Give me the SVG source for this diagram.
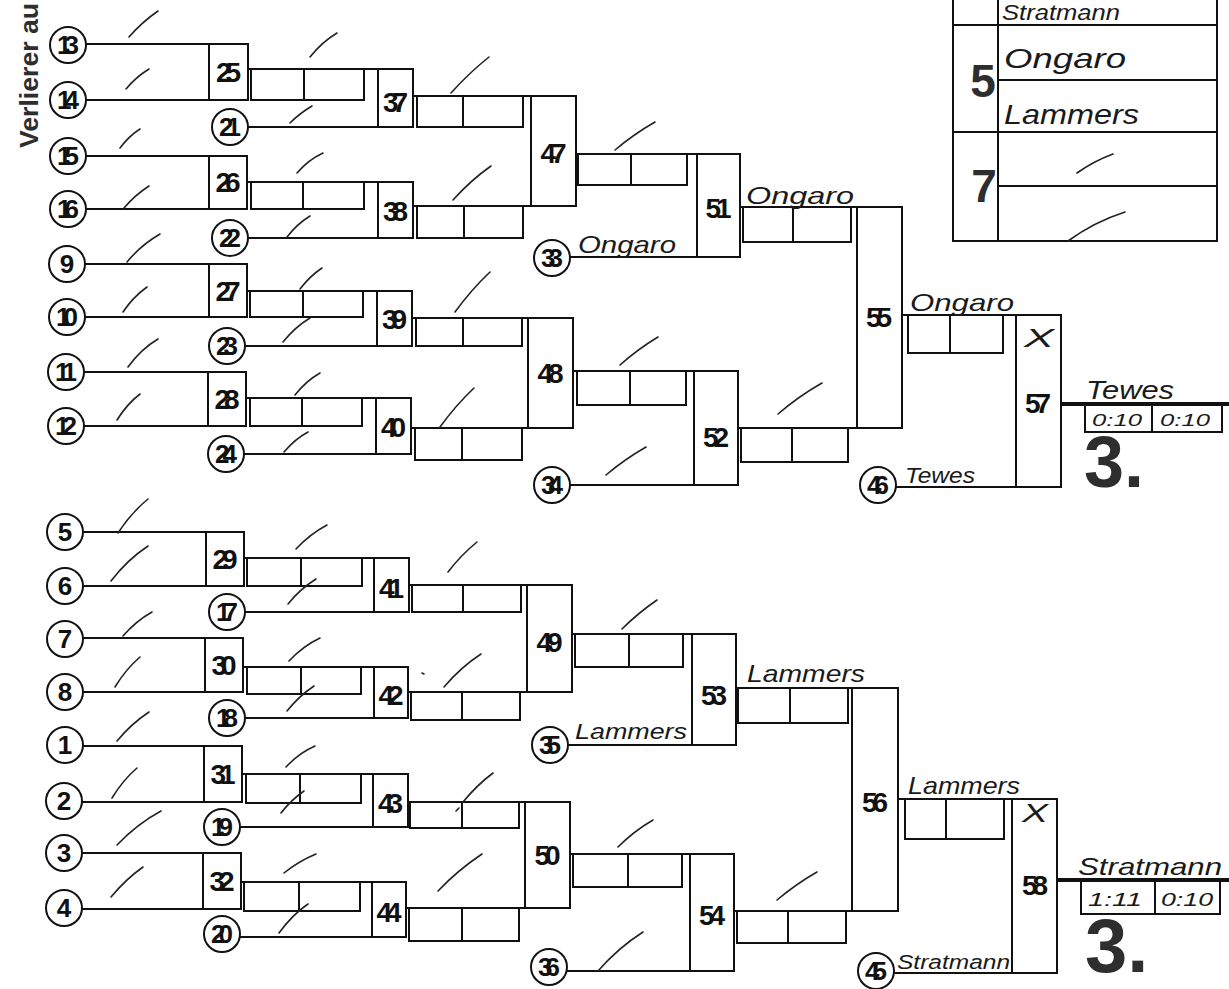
<svg xmlns="http://www.w3.org/2000/svg" width="1229" height="989" viewBox="0 0 1229 989">
<style>
.cn path{fill:none;stroke:#111;stroke-width:2}
.cn .thick{stroke-width:4}
.sc rect{fill:none;stroke:#111;stroke-width:2}
.sc line{stroke:#111;stroke-width:2}
.nd rect,.nd circle{fill:#fff;stroke:#111;stroke-width:2}
.nd text{font-family:"Liberation Sans",Arial,sans-serif;font-weight:700;font-size:26px;text-anchor:middle;fill:#111}
.nd .mb{font-size:28px}
.hw{font-family:"Liberation Sans",Arial,sans-serif;font-style:italic;fill:#1a1a1a}
.sl path{fill:none;stroke:#222;stroke-width:1.6;stroke-linecap:round}
.big{font-family:"Liberation Sans",Arial,sans-serif;font-weight:700;fill:#2e2e2e}
.tb line{stroke:#111;stroke-width:2}
</style>
<rect width="1229" height="989" fill="#fff"/>
<text class="big" transform="translate(38,148) rotate(-90)" font-size="26" textLength="145" lengthAdjust="spacingAndGlyphs">Verlierer au</text>

<g id="connectors" class="cn">
<path d="M86 44H209M86 100H209M86 156H209M86 209H209M85 264H209M85 317H209M84 372H208M84 426H208"/>
<path d="M83 532H206M83 586H206M83 638H205M83 692H205M83 746H204M82 802H204M82 853H203M82 909H203"/>
<path d="M248 69H378M248 127H378M247 182H378M248 238H378M247 291H377M245 346H377M246 398H376M244 454H376"/>
<path d="M244 558H374M245 612H374M243 667H374M245 718H374M242 774H373M240 827H373M241 882H372M240 937H372"/>
<path d="M413 96H531M413 206H531M412 318H528M411 428H528M409 585H527M408 692H527M408 802H525M406 908H525"/>
<path d="M576 154H697M570 257H697M573 371H694M570 485H694M572 634H692M568 745H692M570 854H690M567 971H690"/>
<path d="M740 207H857M738 428H857M736 688H852M734 911H852"/>
<path d="M902 315H1016M896 487H1016M898 799H1012M894 973H1012"/>
<path class="thick" d="M1061 404H1229M1057 880H1229"/>
</g>

<g class="sc">
<g id="s25"><rect x="251" y="69" width="113" height="31"/><line x1="304" y1="69" x2="304" y2="100"/></g>
<g id="s26"><rect x="251" y="182" width="113" height="27"/><line x1="303" y1="182" x2="303" y2="209"/></g>
<g id="s27"><rect x="250" y="291" width="113" height="26"/><line x1="303" y1="291" x2="303" y2="317"/></g>
<g id="s28"><rect x="250" y="398" width="112" height="28"/><line x1="302" y1="398" x2="302" y2="426"/></g>
<g id="s37"><rect x="417" y="96" width="106" height="31"/><line x1="463" y1="96" x2="463" y2="127"/></g>
<g id="s38"><rect x="417" y="206" width="106" height="32"/><line x1="464" y1="206" x2="464" y2="238"/></g>
<g id="s39"><rect x="416" y="318" width="106" height="28"/><line x1="463" y1="318" x2="463" y2="346"/></g>
<g id="s40"><rect x="415" y="428" width="107" height="32"/><line x1="462" y1="428" x2="462" y2="460"/></g>
<g id="s47"><rect x="578" y="154" width="109" height="31"/><line x1="631" y1="154" x2="631" y2="185"/></g>
<g id="s48"><rect x="577" y="371" width="109" height="34"/><line x1="630" y1="371" x2="630" y2="405"/></g>
<g id="s51"><rect x="743" y="207" width="108" height="35"/><line x1="793" y1="207" x2="793" y2="242"/></g>
<g id="s52"><rect x="741" y="428" width="107" height="34"/><line x1="792" y1="428" x2="792" y2="462"/></g>
<g id="s55"><rect x="908" y="315" width="95" height="38"/><line x1="950" y1="315" x2="950" y2="353"/></g>
<g id="s29"><rect x="247" y="558" width="115" height="28"/><line x1="301" y1="558" x2="301" y2="586"/></g>
<g id="s30"><rect x="247" y="667" width="114" height="27"/><line x1="301" y1="667" x2="301" y2="694"/></g>
<g id="s31"><rect x="246" y="774" width="115" height="29"/><line x1="300" y1="774" x2="300" y2="803"/></g>
<g id="s32"><rect x="244" y="882" width="116" height="29"/><line x1="299" y1="882" x2="299" y2="911"/></g>
<g id="s41"><rect x="412" y="585" width="109" height="27"/><line x1="463" y1="585" x2="463" y2="612"/></g>
<g id="s42"><rect x="411" y="692" width="109" height="28"/><line x1="462" y1="692" x2="462" y2="720"/></g>
<g id="s43"><rect x="410" y="802" width="109" height="26"/><line x1="462" y1="802" x2="462" y2="828"/></g>
<g id="s44"><rect x="409" y="908" width="110" height="33"/><line x1="462" y1="908" x2="462" y2="941"/></g>
<g id="s49"><rect x="575" y="634" width="108" height="33"/><line x1="629" y1="634" x2="629" y2="667"/></g>
<g id="s50"><rect x="573" y="854" width="109" height="33"/><line x1="628" y1="854" x2="628" y2="887"/></g>
<g id="s53"><rect x="738" y="688" width="110" height="35"/><line x1="790" y1="688" x2="790" y2="723"/></g>
<g id="s54"><rect x="737" y="911" width="109" height="32"/><line x1="788" y1="911" x2="788" y2="943"/></g>
<g id="s56"><rect x="905" y="799" width="99" height="40"/><line x1="946" y1="799" x2="946" y2="839"/></g>
<g id="s57"><rect x="1085" y="404" width="137" height="28"/><line x1="1152" y1="404" x2="1152" y2="432"/></g>
<g id="s58"><rect x="1081" y="880" width="139" height="34"/><line x1="1155" y1="880" x2="1155" y2="914"/></g>
</g>

<g class="nd">
<g id="m25"><rect x="209" y="44" width="39" height="56"/><text class="mb" x="228.5" y="82" textLength="25">25</text></g>
<g id="m26"><rect x="209" y="156" width="38" height="53"/><text class="mb" x="228" y="192" textLength="25">26</text></g>
<g id="m27"><rect x="209" y="264" width="38" height="53"/><text class="mb" x="228" y="300.5" textLength="25">27</text></g>
<g id="m28"><rect x="208" y="372" width="38" height="54"/><text class="mb" x="227" y="409" textLength="25">28</text></g>
<g id="m29"><rect x="206" y="532" width="38" height="54"/><text class="mb" x="225" y="569" textLength="25">29</text></g>
<g id="m30"><rect x="205" y="638" width="38" height="54"/><text class="mb" x="224" y="675" textLength="25">30</text></g>
<g id="m31"><rect x="204" y="746" width="38" height="56"/><text class="mb" x="223" y="784" textLength="25">31</text></g>
<g id="m32"><rect x="203" y="853" width="38" height="56"/><text class="mb" x="222" y="891" textLength="25">32</text></g>
<g id="m37"><rect x="378" y="69" width="35" height="58"/><text class="mb" x="395.5" y="111.5" textLength="25">37</text></g>
<g id="m38"><rect x="378" y="182" width="35" height="56"/><text class="mb" x="395.5" y="220.5" textLength="25">38</text></g>
<g id="m39"><rect x="377" y="291" width="35" height="55"/><text class="mb" x="394.5" y="328.5" textLength="25">39</text></g>
<g id="m40"><rect x="376" y="398" width="35" height="56"/><text class="mb" x="393.5" y="436.5" textLength="25">40</text></g>
<g id="m41"><rect x="374" y="558" width="35" height="54"/><text class="mb" x="391.5" y="597.5" textLength="25">41</text></g>
<g id="m42"><rect x="374" y="667" width="34" height="51"/><text class="mb" x="391" y="704.5" textLength="25">42</text></g>
<g id="m43"><rect x="373" y="774" width="35" height="53"/><text class="mb" x="390.5" y="812.5" textLength="25">43</text></g>
<g id="m44"><rect x="372" y="882" width="34" height="55"/><text class="mb" x="389" y="921.5" textLength="25">44</text></g>
<g id="m47"><rect x="531" y="96" width="45" height="110"/><text class="mb" x="553.5" y="163" textLength="26">47</text></g>
<g id="m48"><rect x="528" y="318" width="45" height="110"/><text class="mb" x="550.5" y="383" textLength="26">48</text></g>
<g id="m49"><rect x="527" y="585" width="45" height="107"/><text class="mb" x="549.5" y="651.5" textLength="26">49</text></g>
<g id="m50"><rect x="525" y="802" width="45" height="106"/><text class="mb" x="547.5" y="865" textLength="26">50</text></g>
<g id="m51"><rect x="697" y="154" width="43" height="103"/><text class="mb" x="718.5" y="218" textLength="26">51</text></g>
<g id="m52"><rect x="694" y="371" width="44" height="114"/><text class="mb" x="716" y="446.5" textLength="26">52</text></g>
<g id="m53"><rect x="692" y="634" width="44" height="111"/><text class="mb" x="714" y="705" textLength="26">53</text></g>
<g id="m54"><rect x="690" y="854" width="44" height="117"/><text class="mb" x="712" y="925" textLength="26">54</text></g>
<g id="m55"><rect x="857" y="207" width="45" height="221"/><text class="mb" x="879" y="327" textLength="26">55</text></g>
<g id="m56"><rect x="852" y="688" width="46" height="223"/><text class="mb" x="875" y="812" textLength="26">56</text></g>
<g id="m57"><rect x="1016" y="315" width="45" height="172"/><text class="mb" x="1038" y="413" textLength="26">57</text></g>
<g id="m58"><rect x="1012" y="799" width="45" height="174"/><text class="mb" x="1035" y="894.5" textLength="26">58</text></g>

<g id="c13"><circle cx="68" cy="45" r="18"/><text x="68" y="54" textLength="22">13</text></g>
<g id="c14"><circle cx="68" cy="100" r="18"/><text x="68" y="109" textLength="22">14</text></g>
<g id="c21"><circle cx="230" cy="127" r="18"/><text x="230" y="136" textLength="22">21</text></g>
<g id="c15"><circle cx="68" cy="156" r="18"/><text x="68" y="165" textLength="22">15</text></g>
<g id="c16"><circle cx="68" cy="209" r="18"/><text x="68" y="218" textLength="22">16</text></g>
<g id="c22"><circle cx="230" cy="238" r="18"/><text x="230" y="247" textLength="22">22</text></g>
<g id="c9"><circle cx="67" cy="264" r="18"/><text x="67" y="273" textLength="12">9</text></g>
<g id="c10"><circle cx="67" cy="317" r="18"/><text x="67" y="326" textLength="22">10</text></g>
<g id="c23"><circle cx="227" cy="346" r="18"/><text x="227" y="355" textLength="22">23</text></g>
<g id="c11"><circle cx="66" cy="372" r="18"/><text x="66" y="381" textLength="22">11</text></g>
<g id="c12"><circle cx="66" cy="426" r="18"/><text x="66" y="435" textLength="22">12</text></g>
<g id="c24"><circle cx="226" cy="454" r="18"/><text x="226" y="463" textLength="22">24</text></g>
<g id="c33"><circle cx="552" cy="258" r="18"/><text x="552" y="267" textLength="22">33</text></g>
<g id="c34"><circle cx="552" cy="485" r="18"/><text x="552" y="494" textLength="22">34</text></g>
<g id="c46"><circle cx="878" cy="485" r="18"/><text x="878" y="494" textLength="22">46</text></g>
<g id="c5"><circle cx="65" cy="532" r="18"/><text x="65" y="541" textLength="12">5</text></g>
<g id="c6"><circle cx="65" cy="586" r="18"/><text x="65" y="595" textLength="12">6</text></g>
<g id="c17"><circle cx="227" cy="612" r="18"/><text x="227" y="621" textLength="22">17</text></g>
<g id="c7"><circle cx="65" cy="639" r="18"/><text x="65" y="648" textLength="12">7</text></g>
<g id="c8"><circle cx="65" cy="692" r="18"/><text x="65" y="701" textLength="12">8</text></g>
<g id="c18"><circle cx="227" cy="718" r="18"/><text x="227" y="727" textLength="22">18</text></g>
<g id="c1"><circle cx="65" cy="745" r="18"/><text x="65" y="754" textLength="12">1</text></g>
<g id="c2"><circle cx="64" cy="801" r="18"/><text x="64" y="810" textLength="12">2</text></g>
<g id="c19"><circle cx="222" cy="827" r="18"/><text x="222" y="836" textLength="22">19</text></g>
<g id="c3"><circle cx="64" cy="853" r="18"/><text x="64" y="862" textLength="12">3</text></g>
<g id="c4"><circle cx="64" cy="908" r="18"/><text x="64" y="917" textLength="12">4</text></g>
<g id="c20"><circle cx="222" cy="934" r="18"/><text x="222" y="943" textLength="22">20</text></g>
<g id="c35"><circle cx="550" cy="745" r="18"/><text x="550" y="754" textLength="22">35</text></g>
<g id="c36"><circle cx="549" cy="967" r="18"/><text x="549" y="976" textLength="22">36</text></g>
<g id="c45"><circle cx="876" cy="971" r="18"/><text x="876" y="980" textLength="22">45</text></g>
</g>

<g id="table" class="tb">
<line x1="953" y1="0" x2="953" y2="242"/>
<line x1="998" y1="0" x2="998" y2="242"/>
<line x1="1217" y1="0" x2="1217" y2="242"/>
<line x1="952" y1="25" x2="1218" y2="25"/>
<line x1="998" y1="80" x2="1218" y2="80"/>
<line x1="952" y1="132" x2="1218" y2="132"/>
<line x1="998" y1="186" x2="1218" y2="186"/>
<line x1="952" y1="241" x2="1218" y2="241"/>
<text class="big" x="983" y="97" font-size="46" text-anchor="middle">5</text>
<text class="big" x="984" y="202" font-size="46" text-anchor="middle">7</text>
<text class="hw" x="1002" y="20" font-size="22" textLength="118" lengthAdjust="spacingAndGlyphs">Stratmann</text>
<text class="hw" x="1004" y="68" font-size="28" textLength="122" lengthAdjust="spacingAndGlyphs">Ongaro</text>
<text class="hw" x="1004" y="124" font-size="28" textLength="135" lengthAdjust="spacingAndGlyphs">Lammers</text>
</g>

<g id="handwriting">
<text class="hw" x="578" y="253" font-size="24" textLength="98" lengthAdjust="spacingAndGlyphs">Ongaro</text>
<text class="hw" x="746" y="204" font-size="24" textLength="108" lengthAdjust="spacingAndGlyphs">Ongaro</text>
<text class="hw" x="910" y="311" font-size="24" textLength="104" lengthAdjust="spacingAndGlyphs">Ongaro</text>
<text class="hw" x="1024" y="347" font-size="26" textLength="30" lengthAdjust="spacingAndGlyphs">X</text>
<text class="hw" x="1086" y="399" font-size="26" textLength="88" lengthAdjust="spacingAndGlyphs">Tewes</text>
<text class="hw" x="905" y="483" font-size="22" textLength="70" lengthAdjust="spacingAndGlyphs">Tewes</text>
<text class="hw" x="1092" y="426" font-size="17" textLength="50" lengthAdjust="spacingAndGlyphs">0:10</text>
<text class="hw" x="1160" y="426" font-size="17" textLength="50" lengthAdjust="spacingAndGlyphs">0:10</text>
<text class="hw" x="747" y="682" font-size="24" textLength="118" lengthAdjust="spacingAndGlyphs">Lammers</text>
<text class="hw" x="575" y="739" font-size="22" textLength="112" lengthAdjust="spacingAndGlyphs">Lammers</text>
<text class="hw" x="908" y="794" font-size="24" textLength="112" lengthAdjust="spacingAndGlyphs">Lammers</text>
<text class="hw" x="1022" y="822" font-size="26" textLength="26" lengthAdjust="spacingAndGlyphs">X</text>
<text class="hw" x="897" y="969" font-size="20" textLength="113" lengthAdjust="spacingAndGlyphs">Stratmann</text>
<text class="hw" x="1078" y="875" font-size="24" textLength="144" lengthAdjust="spacingAndGlyphs">Stratmann</text>
<text class="hw" x="1088" y="906" font-size="19" textLength="54" lengthAdjust="spacingAndGlyphs">1:11</text>
<text class="hw" x="1161" y="906" font-size="19" textLength="52" lengthAdjust="spacingAndGlyphs">0:10</text>
<text class="big" x="1084" y="487" font-size="72">3.</text>
<text class="big" x="1085" y="972" font-size="76">3.</text>
</g>

<g id="slashes" class="sl">
<path d="M129 37Q142 22 158 11M126 89Q136 77 149 69M120 148Q129 136 140 129M124 208Q135 195 149 186M127 262Q141 245 160 234M123 312Q133 297 147 287M128 367Q141 349 158 339M117 420Q127 404 140 394"/>
<path d="M310 57Q322 42 337 33M290 123Q300 113 312 106M451 93Q469 73 489 57M297 173Q308 160 323 153M287 237Q297 224 310 216M453 200Q471 180 491 166"/>
<path d="M300 289Q310 276 322 268M283 342Q295 327 310 318M455 312Q471 290 490 272M295 395Q306 381 320 373M284 452Q295 439 308 432M440 427Q456 405 474 388"/>
<path d="M615 150Q634 134 655 122M620 365Q638 349 658 337M606 475Q625 459 646 447M778 414Q799 396 822 383"/>
<path d="M118 533Q131 513 148 499M111 581Q127 560 148 546M123 636Q136 621 152 612M115 687Q126 669 140 657M117 741Q131 724 149 712M112 798Q123 780 137 768M117 845Q137 824 161 811M111 897Q126 879 143 867"/>
<path d="M296 549Q310 534 327 525M288 604Q300 589 316 579M448 572Q461 555 477 542M289 661Q303 646 320 638M287 711Q299 696 314 686M444 687Q461 667 481 654"/>
<path d="M622 629Q638 613 657 600M286 767Q299 753 315 746M281 813Q291 800 304 791M463 802Q477 785 493 773M456 811L459 808M284 873Q299 861 316 854M279 933Q292 915 308 904M438 891Q458 870 482 854"/>
<path d="M618 847Q634 831 653 820M598 971Q618 948 643 932M777 900Q796 884 817 872M1077 173Q1094 161 1113 154M1068 241Q1094 222 1125 212"/>
<path d="M422 673L424 674"/>
</g>
</svg>
